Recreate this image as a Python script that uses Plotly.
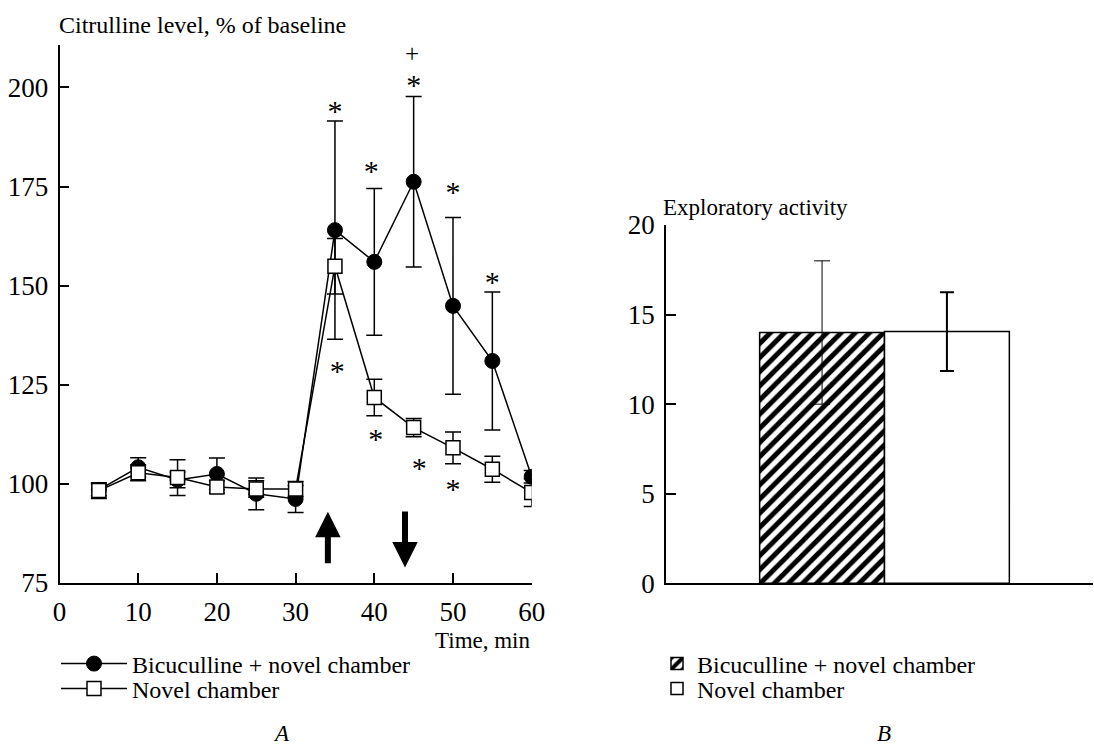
import plotly.graph_objects as go

# ---------------- data ----------------
time_min = [5, 10, 15, 20, 25, 30, 35, 40, 45, 50, 55, 60]
bic_mean = [98.5, 104.2, 101.0, 102.5, 97.5, 96.2, 164.0, 156.0, 176.2, 144.9, 131.0, 101.8]
bic_err = [1.5, 2.4, 2.0, 4.0, 4.0, 3.4, 27.5, 18.5, 21.5, 22.3, 17.4, 1.6]
nov_mean = [98.3, 102.8, 101.6, 99.2, 98.7, 98.7, 154.9, 121.8, 114.2, 109.1, 103.7, 97.8]
nov_err = [2.0, 2.0, 4.5, 1.5, 2.1, 1.9, 7.0, 4.6, 2.3, 4.0, 3.3, 3.5]

# significance marks (panel A)
star_x = [35, 39.6, 45, 50, 55, 35.3, 40.2, 45.7, 50]
star_y = [193.5, 178.4, 200.0, 173.1, 150.2, 127.8, 110.7, 103.4, 98.1]
plus_x = [44.8]
plus_y = [208.0]

# arrows (panel A): x position, tail y, head y
arrow_x = [34.1, 43.9]
arrow_tail = [79.6, 93.4]
arrow_head = [93.0, 78.9]

# panel B
groups = ["Bicuculline + novel chamber", "Novel chamber"]
bar_pos = [0, 1]
activity = [14.0, 14.05]
activity_err = [4.0, 2.2]

y_ticks_a = [75, 100, 125, 150, 175, 200]
x_ticks_a = [0, 10, 20, 30, 40, 50, 60]
y_ticks_b = [0, 5, 10, 15, 20]

FONT = "Liberation Serif"
W, H = 1094, 745
TXT = 23
TICK = 27
LEG = 24

fig = go.Figure()

# ---- panel A ----
fig.add_trace(go.Scatter(
    x=time_min, y=bic_mean, mode="lines+markers", name=groups[0],
    line=dict(color="black", width=1.5),
    marker=dict(symbol="circle", size=15, color="black", line=dict(color="black", width=1)),
    error_y=dict(type="data", array=bic_err, visible=True, color="black", thickness=1.5, width=8),
    xaxis="x", yaxis="y", legend="legend"))
fig.add_trace(go.Scatter(
    x=time_min, y=nov_mean, mode="lines+markers", name=groups[1],
    line=dict(color="black", width=1.5),
    marker=dict(symbol="square", size=14, color="white", line=dict(color="black", width=1.5)),
    error_y=dict(type="data", array=nov_err, visible=True, color="black", thickness=1.5, width=8),
    xaxis="x", yaxis="y", legend="legend3"))
fig.add_trace(go.Scatter(
    x=star_x, y=star_y, mode="text", text=["*"] * len(star_x),
    textfont=dict(family=FONT, size=30, color="black"), showlegend=False,
    hoverinfo="skip", xaxis="x", yaxis="y"))
fig.add_trace(go.Scatter(
    x=plus_x, y=plus_y, mode="text", text=["+"] * len(plus_x),
    textfont=dict(family=FONT, size=25, color="#000000"), showlegend=False,
    hoverinfo="skip", xaxis="x", yaxis="y"))

# ---- panel B ----
fig.add_trace(go.Bar(
    x=[bar_pos[0]], y=[activity[0]], width=1, name=groups[0],
    marker=dict(color="white", line=dict(color="black", width=1.5),
                pattern=dict(shape="/", fgcolor="black", bgcolor="white", size=10, solidity=0.5,
                             fgopacity=1)),
    error_y=dict(type="data", array=[activity_err[0]], visible=True, color="black", thickness=1, width=8),
    xaxis="x2", yaxis="y2", legend="legend2"))
fig.add_trace(go.Bar(
    x=[bar_pos[1]], y=[activity[1]], width=1, name=groups[1],
    marker=dict(color="white", line=dict(color="black", width=1.5)),
    error_y=dict(type="data", array=[activity_err[1]], visible=True, color="black", thickness=2, width=7),
    xaxis="x2", yaxis="y2", legend="legend4"))

annotations = []
for ax_, t_, h_ in zip(arrow_x, arrow_tail, arrow_head):
    annotations.append(dict(x=ax_, y=h_, ax=ax_, ay=t_, xref="x", yref="y", axref="x", ayref="y",
                            showarrow=True, arrowhead=2, arrowsize=0.85, arrowwidth=6,
                            arrowcolor="black", text=""))

annotations += [
    dict(text="Citrulline level, % of baseline", x=57 / W, y=1 - 25 / H, xref="paper", yref="paper",
         xanchor="left", yanchor="middle", showarrow=False, font=dict(family=FONT, size=24, color="black")),
    dict(text="Time, min", x=533 / W, y=1 - 640 / H, xref="paper", yref="paper",
         xanchor="right", yanchor="middle", showarrow=False, font=dict(family=FONT, size=TXT, color="black")),
    dict(text="Exploratory activity", x=661 / W, y=1 - 208 / H, xref="paper", yref="paper",
         xanchor="left", yanchor="middle", showarrow=False, font=dict(family=FONT, size=TXT, color="black")),
    dict(text="<i>A</i>", x=281 / W, y=1 - 733 / H, xref="paper", yref="paper",
         xanchor="center", yanchor="middle", showarrow=False, font=dict(family=FONT, size=TXT, color="black")),
    dict(text="<i>B</i>", x=884 / W, y=1 - 733 / H, xref="paper", yref="paper",
         xanchor="center", yanchor="middle", showarrow=False, font=dict(family=FONT, size=TXT, color="black")),
]

axis_common = dict(showline=True, linecolor="black", linewidth=1.5, showgrid=False, zeroline=False,
                   ticks="inside", ticklen=10, tickwidth=1.5, tickcolor="black", automargin=False,
                   tickfont=dict(family=FONT, size=TICK, color="black"))

leg_common = dict(xanchor="left", yanchor="middle", bgcolor="rgba(0,0,0,0)",
                  font=dict(family=FONT, size=LEG, color="black"), tracegroupgap=0)

fig.update_layout(
    width=W, height=H, margin=dict(l=0, r=0, t=0, b=0),
    paper_bgcolor="white", plot_bgcolor="white",
    barmode="overlay",
    xaxis=dict(domain=[59.5 / W, 531.7 / W], range=[0, 60], tickvals=x_ticks_a,
               anchor="y", ticklabelstandoff=4, **axis_common),
    yaxis=dict(domain=[1 - 583 / H, 1 - 45 / H], range=[75, 210.7], tickvals=y_ticks_a,
               anchor="x", ticklabelstandoff=4, **axis_common),
    xaxis2=dict(domain=[666 / W, 1093 / W], range=[-1.25, 2.17], showticklabels=False,
                anchor="y2", showline=True, linecolor="black", linewidth=1.5, showgrid=False,
                zeroline=False, ticks="", automargin=False),
    yaxis2=dict(domain=[1 - 583.3 / H, 1 - 225 / H], range=[0, 20], tickvals=y_ticks_b,
                anchor="x2", ticklabelstandoff=4, **axis_common),
    annotations=annotations,
    legend=dict(x=56 / W, y=1 - 664 / H, itemwidth=66, **leg_common),
    legend3=dict(x=56 / W, y=1 - 689 / H, itemwidth=66, **leg_common),
    legend2=dict(x=657 / W, y=1 - 664 / H, **leg_common),
    legend4=dict(x=657 / W, y=1 - 689 / H, **leg_common),
    showlegend=True,
)

fig.write_html("out.html")
